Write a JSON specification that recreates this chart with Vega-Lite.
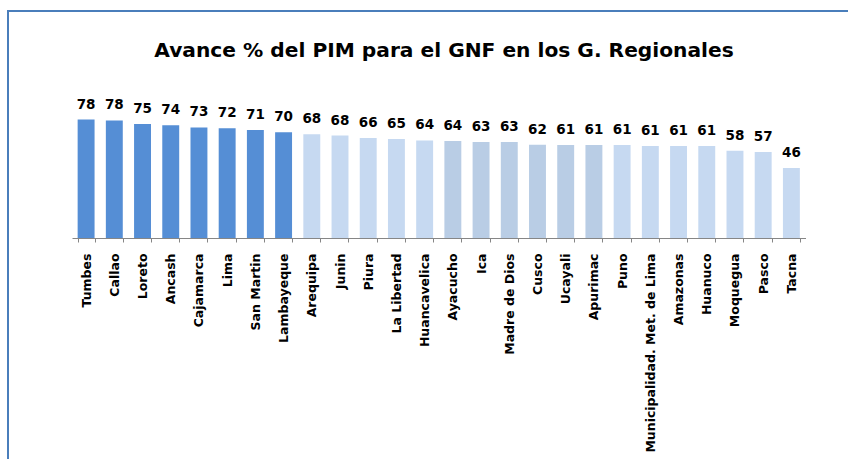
{
  "$schema": "https://vega.github.io/schema/vega-lite/v6.json",
  "autosize": {"type": "none"},
  "padding": {"left": 8, "top": 11, "right": 0, "bottom": 0},
  "width": 860,
  "height": 460,
  "background": "white",
  "config": {
    "view": {"stroke": "#4A7EBB", "strokeWidth": 2, "fill": "white"},
    "font": "DejaVu Sans"
  },
  "title": {
    "text": "Avance % del PIM para el GNF en los G. Regionales",
    "font": "DejaVu Sans",
    "fontSize": 20.2,
    "fontWeight": "bold",
    "color": "#000000",
    "anchor": "middle",
    "frame": "group",
    "baseline": "alphabetic",
    "offset": 0,
    "dy": 66,
    "dx": 6
  },
  "data": {
    "values": [
      {"region": "Tumbes", "avance": 78.2, "grupo": "A"},
      {"region": "Callao", "avance": 77.6, "grupo": "A"},
      {"region": "Loreto", "avance": 75.2, "grupo": "A"},
      {"region": "Ancash", "avance": 74.4, "grupo": "A"},
      {"region": "Cajamarca", "avance": 73.0, "grupo": "A"},
      {"region": "Lima", "avance": 72.4, "grupo": "A"},
      {"region": "San Martin", "avance": 71.3, "grupo": "A"},
      {"region": "Lambayeque", "avance": 69.8, "grupo": "A"},
      {"region": "Arequipa", "avance": 68.4, "grupo": "B"},
      {"region": "Junin", "avance": 67.6, "grupo": "B"},
      {"region": "Piura", "avance": 66.0, "grupo": "B"},
      {"region": "La Libertad", "avance": 65.3, "grupo": "B"},
      {"region": "Huancavelica", "avance": 64.4, "grupo": "B"},
      {"region": "Ayacucho", "avance": 64.0, "grupo": "C"},
      {"region": "Ica", "avance": 63.3, "grupo": "C"},
      {"region": "Madre de Dios", "avance": 63.3, "grupo": "C"},
      {"region": "Cusco", "avance": 61.6, "grupo": "C"},
      {"region": "Ucayali", "avance": 61.4, "grupo": "C"},
      {"region": "Apurimac", "avance": 61.4, "grupo": "C"},
      {"region": "Puno", "avance": 61.4, "grupo": "B"},
      {"region": "Municipalidad. Met. de Lima", "avance": 60.8, "grupo": "B"},
      {"region": "Amazonas", "avance": 60.8, "grupo": "B"},
      {"region": "Huanuco", "avance": 60.8, "grupo": "B"},
      {"region": "Moquegua", "avance": 57.6, "grupo": "B"},
      {"region": "Pasco", "avance": 56.8, "grupo": "B"},
      {"region": "Tacna", "avance": 46.2, "grupo": "B"}
    ]
  },
  "encoding": {
    "x": {
      "field": "region",
      "type": "nominal",
      "sort": null,
      "scale": {"range": [64, 797.5], "paddingInner": 0.4, "paddingOuter": 0.2},
      "axis": {
        "title": null,
        "orient": "bottom",
        "offset": -233,
        "labelAngle": -90,
        "labelFont": "DejaVu Sans",
        "labelFontSize": 12.5,
        "labelFontWeight": "bold",
        "labelColor": "#000000",
        "labelPadding": 11,
        "labelOverlap": false,
        "labelLimit": 300,
        "tickBand": "extent",
        "tickSize": 4,
        "tickColor": "#868686",
        "domainColor": "#868686",
        "domainWidth": 1,
        "grid": false
      }
    },
    "y": {
      "field": "avance",
      "type": "quantitative",
      "scale": {"domain": [0, 100], "range": [227, 75.5], "nice": false, "zero": true},
      "axis": null
    }
  },
  "layer": [
    {
      "mark": {"type": "bar"},
      "encoding": {
        "color": {
          "field": "grupo",
          "type": "nominal",
          "scale": {"domain": ["A", "B", "C"], "range": ["#558ED5", "#C6D9F1", "#B9CDE5"]},
          "legend": null
        }
      }
    },
    {
      "mark": {"type": "text", "baseline": "alphabetic", "align": "center", "dy": -11, "font": "DejaVu Sans", "fontSize": 13.5, "fontWeight": "bold", "color": "#000000"},
      "encoding": {
        "text": {"field": "avance", "type": "quantitative", "format": ".0f"}
      }
    }
  ]
}
